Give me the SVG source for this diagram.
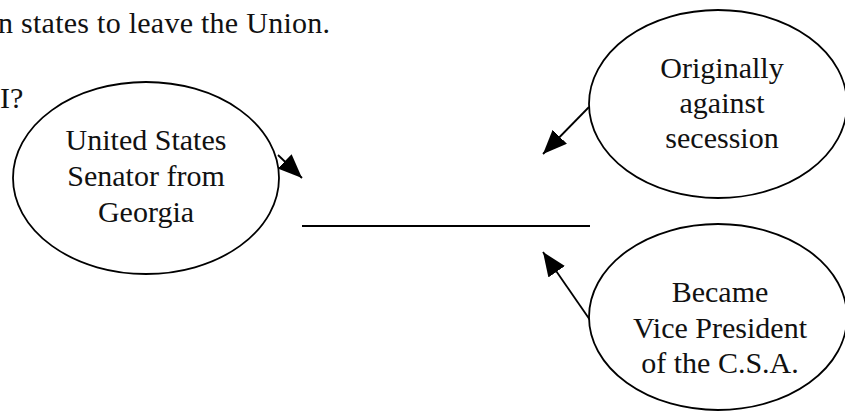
<svg xmlns="http://www.w3.org/2000/svg" width="845" height="412" viewBox="0 0 845 412">
<style>
text{font-family:"Liberation Serif","Times New Roman",serif;font-size:30px;fill:#111}
.c{text-anchor:middle}
ellipse{fill:#fff;stroke:#000;stroke-width:1.8}
.ln{stroke:#000;stroke-width:1.8;fill:none}
</style>
<defs>
<marker id="ah" markerUnits="userSpaceOnUse" markerWidth="26" markerHeight="22" refX="24" refY="10" orient="auto">
<path d="M0,0 L24,10 L0,20 z" fill="#000"/>
</marker>
</defs>
<rect width="845" height="412" fill="#fff"/>
<text x="-2" y="33" textLength="332" lengthAdjust="spacing">n states to leave the Union.</text>
<text x="0" y="108">I?</text>
<g id="connectors">
<line class="ln" x1="278" y1="155" x2="302" y2="178" marker-end="url(#ah)"/>
<line class="ln" x1="589" y1="107" x2="543" y2="154" marker-end="url(#ah)"/>
<line class="ln" x1="590" y1="320" x2="543" y2="252" marker-end="url(#ah)"/>
<line class="ln" x1="302" y1="226" x2="590" y2="226"/>
</g>
<g id="node-senator">
<ellipse cx="146" cy="178" rx="133" ry="96"/>
<text class="c" x="146" y="150">United States</text>
<text class="c" x="146" y="186">Senator from</text>
<text class="c" x="146" y="222">Georgia</text>
</g>
<g id="node-against">
<ellipse cx="718" cy="104" rx="129" ry="94"/>
<text class="c" x="722" y="78">Originally</text>
<text class="c" x="722" y="113">against</text>
<text class="c" x="722" y="148">secession</text>
</g>
<g id="node-vp">
<ellipse cx="718" cy="317" rx="129" ry="93"/>
<text class="c" x="720" y="302">Became</text>
<text class="c" x="720" y="338">Vice President</text>
<text class="c" x="720" y="373">of the C.S.A.</text>
</g>
</svg>
